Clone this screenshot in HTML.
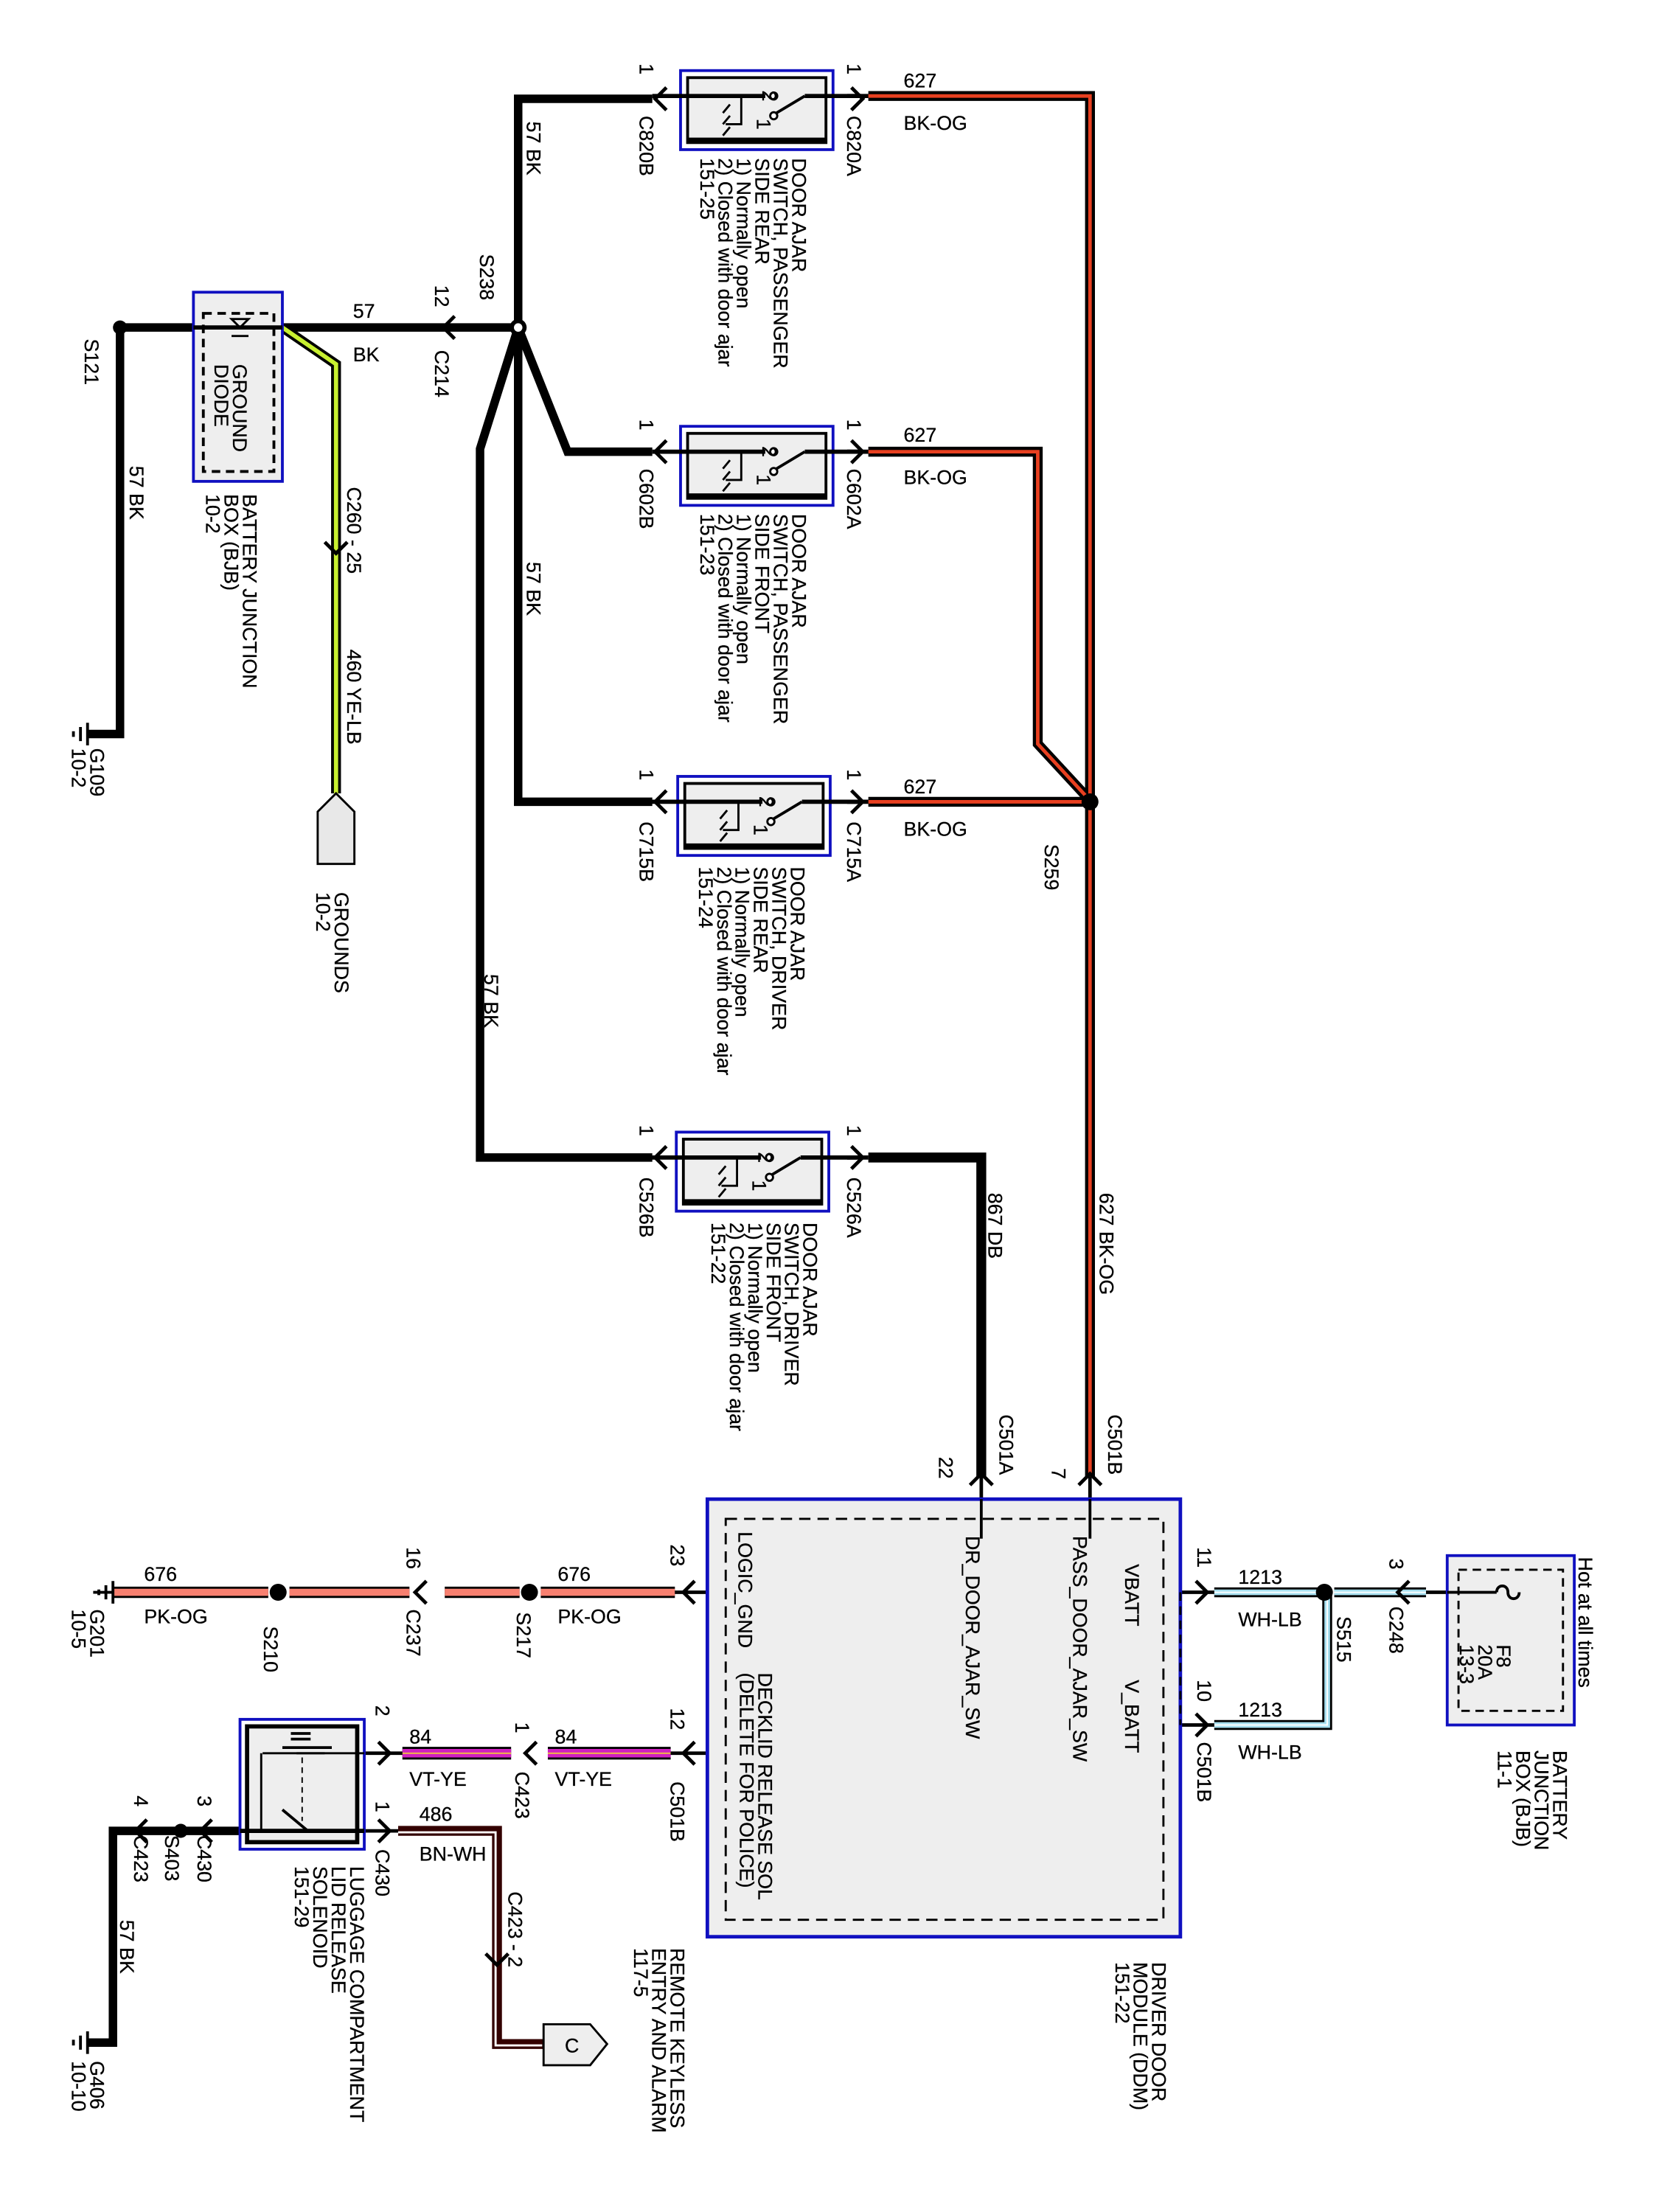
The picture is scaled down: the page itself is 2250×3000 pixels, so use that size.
<!DOCTYPE html>
<html><head><meta charset="utf-8">
<style>
html,body{margin:0;padding:0;background:#fff;}
svg{display:block;}
text{font-family:"Liberation Sans",Arial,sans-serif;font-size:14px;fill:#000;stroke:#000;stroke-width:0.15;}
</style></head>
<body>
<svg width="2250" height="3000" viewBox="0 0 1175 1567" preserveAspectRatio="none" xmlns="http://www.w3.org/2000/svg">
<rect width="1175" height="1567" fill="#fff"/>
<defs>
<g id="sw">
<rect x="0" y="0" width="108" height="56" fill="none" stroke="#1010c0" stroke-width="2"/>
<rect x="5" y="5" width="98" height="46" fill="#eee" stroke="#000" stroke-width="2"/>
<line x1="5" y1="49" x2="103" y2="49" stroke="#000" stroke-width="3"/>
<line x1="-20" y1="18" x2="60" y2="18" stroke="#000" stroke-width="3"/>
<line x1="88" y1="18" x2="128" y2="18" stroke="#000" stroke-width="3"/>
<circle cx="66" cy="18" r="2.5" fill="#fff" stroke="#000" stroke-width="1.5"/>
<circle cx="66" cy="32" r="2.5" fill="#fff" stroke="#000" stroke-width="1.5"/>
<line x1="68" y1="30" x2="88" y2="18" stroke="#000" stroke-width="2"/>
<polyline points="43,18 43,38 32,38" fill="none" stroke="#000" stroke-width="1.5"/>
<path d="M35,24 l-5,6 M35,32 l-5,6 M35,40 l-5,6" stroke="#000" stroke-width="1.5"/>
<text x="58" y="14" font-size="11" transform="rotate(90 58 14)">2</text>
<text x="54" y="34" font-size="11" transform="rotate(90 54 34)">1</text>
</g>
</defs>

<g fill="none" stroke-linejoin="miter">
<path d="M85,232 H137 M200,232 H367 M85,232 V520 H62" stroke="#000" stroke-width="6"/>
<path d="M367,232 V70 H462 M367,232 V568 H462 M367,232 L402,320 H462 M367,232 L340,318 V820 H462" stroke="#000" stroke-width="6"/>
<path d="M200,232 L238,258 V562" stroke="#000" stroke-width="7"/>
<path d="M200,232 L238,258 V562" stroke="#c8f030" stroke-width="3"/>
<path d="M615,68 H772 V1046 M615,320 H735 V527 L772,567 M615,568 H772" stroke="#000" stroke-width="7"/>
<path d="M615,68 H772 V1046 M615,320 H735 V527 L772,567 M615,568 H772" stroke="#e84020" stroke-width="2.5"/>
<path d="M615,820 H695 V1046" stroke="#000" stroke-width="7"/>
<path d="M80,1128 H190 M205,1128 H290 M315,1128 H368 M383,1128 H478" stroke="#000" stroke-width="8"/>
<path d="M80,1128 H190 M205,1128 H290 M315,1128 H368 M383,1128 H478" stroke="#f88070" stroke-width="5"/>
<path d="M285,1242 H362 M388,1242 H475" stroke="#000" stroke-width="9"/>
<path d="M285,1242 H362 M388,1242 H475" stroke="#d020c0" stroke-width="6"/>
<path d="M285,1242 H362 M388,1242 H475" stroke="#f0c040" stroke-width="1"/>
<path d="M282,1297 H352 V1448 H385" stroke="#300" stroke-width="7"/>
<path d="M282,1297 H352 V1448 H385" stroke="#fff" stroke-width="1.5" transform="translate(-1,1)"/>
<path d="M860,1128 H935 M945,1128 H1010 M860,1222 H940 V1128" stroke="#000" stroke-width="7"/>
<path d="M860,1128 H935 M945,1128 H1010 M860,1222 H940 V1128" stroke="#a8e0f0" stroke-width="4"/>
<path d="M860,1128 H935 M945,1128 H1010 M860,1222 H940 V1128" stroke="#fff" stroke-width="1"/>
<path d="M170,1297 H80 V1447 H62" stroke="#000" stroke-width="6"/>
<path d="M600,68 H615 M600,320 H615 M600,568 H615 M600,820 H615" stroke="#000" stroke-width="3"/>
<path d="M695,1046 V1062 M772,1046 V1062 M836,1128 H860 M836,1222 H860 M478,1128 H500 M475,1242 H500 M258,1242 H285 M258,1297 H282" stroke="#000" stroke-width="2.5"/>
<path d="M1010,1128 H1025" stroke="#000" stroke-width="2.5"/>
</g>

<g fill="#000">
<circle cx="85" cy="232" r="5"/><circle cx="367" cy="232" r="6"/>
<circle cx="772" cy="568" r="6"/><circle cx="197" cy="1128" r="6"/>
<circle cx="375" cy="1128" r="6"/><circle cx="938" cy="1128" r="6"/>
<circle cx="128" cy="1297" r="5"/>
</g>
<circle cx="367" cy="232" r="3" fill="#fff"/>

<g fill="none" stroke="#000" stroke-width="2.5">
<path d="M472,62 l-8,8 l8,8 M603,62 l8,8 l-8,8"/>
<path d="M472,312 l-8,8 l8,8 M603,312 l8,8 l-8,8"/>
<path d="M472,560 l-8,8 l8,8 M603,560 l8,8 l-8,8"/>
<path d="M472,812 l-8,8 l8,8 M603,812 l8,8 l-8,8"/>
<path d="M322,224 l-8,8 l8,8"/>
<path d="M230,384 l8,8 l8,-8"/>
<path d="M687,1052 l8,-8 l8,8 M764,1052 l8,-8 l8,8"/>
<path d="M847,1120 l8,8 l-8,8 M847,1214 l8,8 l-8,8"/>
<path d="M998,1120 l-8,8 l8,8"/>
<path d="M492,1120 l-8,8 l8,8 M302,1120 l-8,8 l8,8"/>
<path d="M492,1234 l-8,8 l8,8 M380,1234 l-8,8 l8,8 M268,1234 l8,8 l-8,8"/>
<path d="M268,1289 l8,8 l-8,8 M150,1289 l-8,8 l8,8 M104,1289 l-8,8 l8,8"/>
<path d="M344,1384 l8,8 l8,-8"/>
</g>

<use href="#sw" x="482" y="50"/>
<use href="#sw" x="482" y="302"/>
<use href="#sw" x="480" y="550"/>
<use href="#sw" x="479" y="802"/>

<rect x="137" y="207" width="63" height="134" fill="#eee" stroke="#1010c0" stroke-width="2"/>
<rect x="144" y="222" width="50" height="112" fill="none" stroke="#000" stroke-width="2" stroke-dasharray="6,4"/>
<line x1="137" y1="232" x2="200" y2="232" stroke="#000" stroke-width="3"/>
<path d="M164,226 l6,6 l6,-6 z M164,238 h12" fill="none" stroke="#000" stroke-width="1.5"/>

<path d="M225,612 V575 L238,562 L251,575 V612 Z" fill="#e8e8e8" stroke="#000" stroke-width="1.5"/>
<path d="M385,1434 H418 L430,1448 L418,1463 H385 Z" fill="#eee" stroke="#000" stroke-width="1.5"/>
<text x="400" y="1454" font-size="13">C</text>

<g stroke="#000" stroke-width="2">
<path d="M62,512 v16 M57,515 v10 M52,518 v4"/>
<path d="M62,1439 v16 M57,1442 v10 M52,1445 v4"/>
<path d="M80,1120 v16 M75,1123 v10 M70,1126 v4"/>
</g>
<line x1="80" y1="1128" x2="66" y2="1128" stroke="#000" stroke-width="2"/>

<rect x="501" y="1062" width="335" height="310" fill="#eee" stroke="#1010c0" stroke-width="2.5"/>
<rect x="514" y="1076" width="310" height="284" fill="none" stroke="#000" stroke-width="1.5" stroke-dasharray="8,5"/>
<line x1="695" y1="1062" x2="695" y2="1090" stroke="#000" stroke-width="2"/>
<line x1="772" y1="1062" x2="772" y2="1090" stroke="#000" stroke-width="2"/>
<line x1="836" y1="1128" x2="836" y2="1222" stroke="#000" stroke-width="1.5" stroke-dasharray="6,4"/>

<rect x="1025" y="1102" width="90" height="120" fill="#eee" stroke="#1010c0" stroke-width="2"/>
<rect x="1033" y="1112" width="74" height="100" fill="none" stroke="#000" stroke-width="1.5" stroke-dasharray="6,4"/>
<path d="M1025,1128 H1060 M1060,1128 c0,-6 8,-6 8,0 c0,6 8,6 8,0" fill="none" stroke="#000" stroke-width="2"/>

<rect x="170" y="1218" width="88" height="92" fill="none" stroke="#1010c0" stroke-width="2"/>
<rect x="175" y="1223" width="78" height="82" fill="#eee" stroke="#000" stroke-width="3"/>
<path d="M170,1297 H258" stroke="#000" stroke-width="3"/>
<path d="M258,1242 H210 M185,1242 V1297" fill="none" stroke="#000" stroke-width="1.5"/>
<path d="M200,1238 H235 M206,1228 H220 M206,1232 H220" stroke="#000" stroke-width="2"/>
<path d="M186,1242 H230" stroke="#000" stroke-width="1.5"/>
<line x1="214" y1="1245" x2="214" y2="1290" stroke="#000" stroke-width="1" stroke-dasharray="4,3"/>
<line x1="200" y1="1282" x2="218" y2="1297" stroke="#000" stroke-width="2"/>

<text x="640" y="62">627</text><text x="640" y="92">BK-OG</text>
<text x="640" y="313">627</text><text x="640" y="343">BK-OG</text>
<text x="640" y="562">627</text><text x="640" y="592">BK-OG</text>
<text x="250" y="225">57</text><text x="250" y="256">BK</text>
<text x="877" y="1122">1213</text><text x="877" y="1152">WH-LB</text>
<text x="877" y="1216">1213</text><text x="877" y="1246">WH-LB</text>
<text x="102" y="1120">676</text><text x="102" y="1150">PK-OG</text>
<text x="395" y="1120">676</text><text x="395" y="1150">PK-OG</text>
<text x="290" y="1235">84</text><text x="290" y="1265">VT-YE</text>
<text x="393" y="1235">84</text><text x="393" y="1265">VT-YE</text>
<text x="297" y="1290">486</text><text x="297" y="1318">BN-WH</text>

<g>
<text transform="translate(453,45) rotate(90)">1</text>
<text transform="translate(600,45) rotate(90)">1</text>
<text transform="translate(453,82) rotate(90)">C820B</text>
<text transform="translate(600,82) rotate(90)">C820A</text>
<text transform="translate(561,112) rotate(90)"><tspan x="0" dy="0">DOOR AJAR</tspan><tspan x="0" dy="13">SWITCH, PASSENGER</tspan><tspan x="0" dy="13">SIDE REAR</tspan><tspan x="0" dy="13">1) Normally open</tspan><tspan x="0" dy="13">2) Closed with door ajar</tspan><tspan x="0" dy="13">151-25</tspan></text>

<text transform="translate(453,297) rotate(90)">1</text>
<text transform="translate(600,297) rotate(90)">1</text>
<text transform="translate(453,332) rotate(90)">C602B</text>
<text transform="translate(600,332) rotate(90)">C602A</text>
<text transform="translate(561,364) rotate(90)"><tspan x="0" dy="0">DOOR AJAR</tspan><tspan x="0" dy="13">SWITCH, PASSENGER</tspan><tspan x="0" dy="13">SIDE FRONT</tspan><tspan x="0" dy="13">1) Normally open</tspan><tspan x="0" dy="13">2) Closed with door ajar</tspan><tspan x="0" dy="13">151-23</tspan></text>

<text transform="translate(453,545) rotate(90)">1</text>
<text transform="translate(600,545) rotate(90)">1</text>
<text transform="translate(453,582) rotate(90)">C715B</text>
<text transform="translate(600,582) rotate(90)">C715A</text>
<text transform="translate(560,614) rotate(90)"><tspan x="0" dy="0">DOOR AJAR</tspan><tspan x="0" dy="13">SWITCH, DRIVER</tspan><tspan x="0" dy="13">SIDE REAR</tspan><tspan x="0" dy="13">1) Normally open</tspan><tspan x="0" dy="13">2) Closed with door ajar</tspan><tspan x="0" dy="13">151-24</tspan></text>

<text transform="translate(453,797) rotate(90)">1</text>
<text transform="translate(600,797) rotate(90)">1</text>
<text transform="translate(453,834) rotate(90)">C526B</text>
<text transform="translate(600,834) rotate(90)">C526A</text>
<text transform="translate(569,866) rotate(90)"><tspan x="0" dy="0">DOOR AJAR</tspan><tspan x="0" dy="13">SWITCH, DRIVER</tspan><tspan x="0" dy="13">SIDE FRONT</tspan><tspan x="0" dy="13">1) Normally open</tspan><tspan x="0" dy="13">2) Closed with door ajar</tspan><tspan x="0" dy="13">151-22</tspan></text>

<text transform="translate(373,86) rotate(90)">57   BK</text>
<text transform="translate(373,398) rotate(90)">57   BK</text>
<text transform="translate(343,690) rotate(90)">57   BK</text>
<text transform="translate(340,180) rotate(90)">S238</text>
<text transform="translate(308,202) rotate(90)">12</text>
<text transform="translate(308,248) rotate(90)">C214</text>
<text transform="translate(60,240) rotate(90)">S121</text>
<text transform="translate(92,330) rotate(90)">57   BK</text>
<text transform="translate(165,258) rotate(90)"><tspan x="0" dy="0">GROUND</tspan><tspan x="0" dy="13">DIODE</tspan></text>
<text transform="translate(172,350) rotate(90)"><tspan x="0" dy="0">BATTERY  JUNCTION</tspan><tspan x="0" dy="13">BOX (BJB)</tspan><tspan x="0" dy="13">10-2</tspan></text>
<text transform="translate(64,530) rotate(90)"><tspan x="0" dy="0">G109</tspan><tspan x="0" dy="13">10-2</tspan></text>
<text transform="translate(246,345) rotate(90)">C260 - 25</text>
<text transform="translate(246,460) rotate(90)">460   YE-LB</text>
<text transform="translate(237,632) rotate(90)"><tspan x="0" dy="0">GROUNDS</tspan><tspan x="0" dy="13">10-2</tspan></text>
<text transform="translate(740,598) rotate(90)">S259</text>
<text transform="translate(700,845) rotate(90)">867   DB</text>
<text transform="translate(779,845) rotate(90)">627   BK-OG</text>
<text transform="translate(708,1002) rotate(90)">C501A</text>
<text transform="translate(785,1002) rotate(90)">C501B</text>
<text transform="translate(665,1032) rotate(90)">22</text>
<text transform="translate(745,1040) rotate(90)">7</text>

<text transform="translate(760,1088) rotate(90)">PASS_DOOR_AJAR_SW</text>
<text transform="translate(684,1088) rotate(90)">DR_DOOR_AJAR_SW</text>
<text transform="translate(797,1108) rotate(90)">VBATT</text>
<text transform="translate(797,1190) rotate(90)">V_BATT</text>
<text transform="translate(523,1085) rotate(90)">LOGIC_GND</text>
<text transform="translate(537,1185) rotate(90)"><tspan x="0" dy="0">DECKLID RELEASE SOL</tspan><tspan x="0" dy="13">(DELETE FOR POLICE)</tspan></text>
<text transform="translate(816,1390) rotate(90)"><tspan x="0" dy="0">DRIVER DOOR</tspan><tspan x="0" dy="13">MODULE (DDM)</tspan><tspan x="0" dy="13">151-22</tspan></text>

<text transform="translate(848,1096) rotate(90)">11</text>
<text transform="translate(848,1190) rotate(90)">10</text>
<text transform="translate(848,1234) rotate(90)">C501B</text>
<text transform="translate(947,1145) rotate(90)">S515</text>
<text transform="translate(984,1104) rotate(90)">3</text>
<text transform="translate(984,1138) rotate(90)">C248</text>
<text transform="translate(1118,1103) rotate(90)">Hot at all times</text>
<text transform="translate(1060,1165) rotate(90)"><tspan x="0" dy="0">F8</tspan><tspan x="0" dy="13">20A</tspan><tspan x="0" dy="13">13-3</tspan></text>
<text transform="translate(1100,1240) rotate(90)"><tspan x="0" dy="0">BATTERY</tspan><tspan x="0" dy="13">JUNCTION</tspan><tspan x="0" dy="13">BOX (BJB)</tspan><tspan x="0" dy="13">11-1</tspan></text>

<text transform="translate(64,1140) rotate(90)"><tspan x="0" dy="0">G201</tspan><tspan x="0" dy="13">10-5</tspan></text>
<text transform="translate(187,1152) rotate(90)">S210</text>
<text transform="translate(288,1096) rotate(90)">16</text>
<text transform="translate(288,1140) rotate(90)">C237</text>
<text transform="translate(366,1142) rotate(90)">S217</text>
<text transform="translate(475,1094) rotate(90)">23</text>
<text transform="translate(475,1210) rotate(90)">12</text>
<text transform="translate(475,1262) rotate(90)">C501B</text>
<text transform="translate(365,1220) rotate(90)">1</text>
<text transform="translate(365,1255) rotate(90)">C423</text>
<text transform="translate(266,1208) rotate(90)">2</text>
<text transform="translate(266,1276) rotate(90)">1</text>
<text transform="translate(266,1310) rotate(90)">C430</text>
<text transform="translate(140,1272) rotate(90)">3</text>
<text transform="translate(140,1300) rotate(90)">C430</text>
<text transform="translate(117,1300) rotate(90)">S403</text>
<text transform="translate(95,1272) rotate(90)">4</text>
<text transform="translate(95,1300) rotate(90)">C423</text>
<text transform="translate(85,1360) rotate(90)">57   BK</text>
<text transform="translate(64,1460) rotate(90)"><tspan x="0" dy="0">G406</tspan><tspan x="0" dy="13">10-10</tspan></text>
<text transform="translate(248,1322) rotate(90)"><tspan x="0" dy="0">LUGGAGE COMPARTMENT</tspan><tspan x="0" dy="13">LID RELEASE</tspan><tspan x="0" dy="13">SOLENOID</tspan><tspan x="0" dy="13">151-29</tspan></text>
<text transform="translate(360,1340) rotate(90)">C423 - 2</text>
<text transform="translate(475,1380) rotate(90)"><tspan x="0" dy="0">REMOTE KEYLESS</tspan><tspan x="0" dy="13">ENTRY AND ALARM</tspan><tspan x="0" dy="13">117-5</tspan></text>
</g>
</svg>
</body></html>
